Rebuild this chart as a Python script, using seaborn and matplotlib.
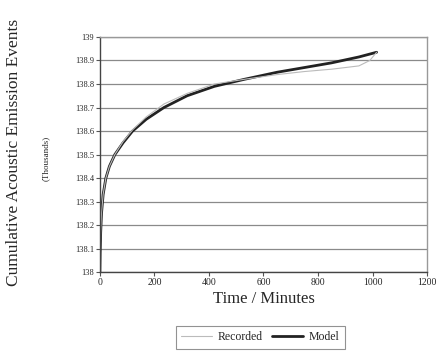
import numpy as np
import pandas as pd
import matplotlib.pyplot as plt
import seaborn as sns

# valores (milhares de eventos)
tempo_modelo = [0, 1, 3, 6, 12, 22, 35, 55, 85, 120, 170, 235, 320, 420, 530, 650, 750, 850, 950, 1015]
valor_modelo = [138.0, 138.08, 138.17, 138.25, 138.33, 138.40, 138.45, 138.50, 138.55, 138.60,
                138.65, 138.70, 138.75, 138.79, 138.82, 138.85, 138.87, 138.89, 138.915, 138.935]

tempo_registado = [0, 1, 3, 6, 12, 22, 35, 55, 85, 120, 170, 235, 320, 420, 530, 650, 750, 850, 950, 990, 1015]
valor_registado = [138.0, 138.08, 138.17, 138.25, 138.33, 138.40, 138.45, 138.50, 138.555, 138.605,
                   138.66, 138.715, 138.76, 138.80, 138.82, 138.84, 138.853, 138.863, 138.877, 138.9, 138.935]

y_ticks = [138.0, 138.1, 138.2, 138.3, 138.4, 138.5, 138.6, 138.7, 138.8, 138.9, 139.0]
y_labels = ['138', '138.1', '138.2', '138.3', '138.4', '138.5', '138.6', '138.7', '138.8', '138.9', '139']
x_ticks = [0, 200, 400, 600, 800, 1000, 1200]

sns.set_style('white')
plt.rcParams['font.family'] = ['Liberation Serif', 'DejaVu Serif']

dados = pd.concat([
    pd.DataFrame({'t': tempo_registado, 'v': valor_registado, 'serie': 'Recorded'}),
    pd.DataFrame({'t': tempo_modelo, 'v': valor_modelo, 'serie': 'Model'}),
])

fig = plt.figure(figsize=(4.38, 3.59), dpi=100)
ax = fig.add_axes([0.228, 0.242, 0.747, 0.655])

# modelo por baixo (grosso), registado por cima (fino)
sns.lineplot(data=dados[dados.serie == 'Model'], x='t', y='v', ax=ax,
             color='#222222', linewidth=2.0, label='Model', sort=False)
sns.lineplot(data=dados[dados.serie == 'Recorded'], x='t', y='v', ax=ax,
             color='#bbbbbb', linewidth=0.8, label='Recorded', sort=False)

ax.set_xlim(0, 1200)
ax.set_ylim(138.0, 139.0)
ax.set_yticks(y_ticks)
ax.set_yticklabels(y_labels, fontsize=6)
ax.set_xticks(x_ticks)
ax.set_xticklabels([str(x) for x in x_ticks], fontsize=7)
ax.grid(axis='y', color='#8a8a8a', linewidth=0.9)
ax.tick_params(axis='both', length=3, width=0.8, color='#555555', pad=1, direction='out')
ax.tick_params(left=True, bottom=True)

for lado in ['top', 'right']:
    ax.spines[lado].set_color('#999999')
    ax.spines[lado].set_linewidth(1.0)
for lado in ['left', 'bottom']:
    ax.spines[lado].set_color('#444444')
    ax.spines[lado].set_linewidth(1.0)

ax.set_xlabel('Time / Minutes', fontsize=12, labelpad=3)
ax.set_ylabel('')
fig.text(0.032, 0.574, 'Cumulative Acoustic Emission Events', rotation=90,
         fontsize=12.5, ha='center', va='center')
fig.text(0.105, 0.56, '(Thousands)', rotation=90, fontsize=6.5, ha='center', va='center')

handles, labels = ax.get_legend_handles_labels()
ordem = [labels.index('Recorded'), labels.index('Model')]
leg = ax.legend([handles[i] for i in ordem], [labels[i] for i in ordem],
                loc='center', bbox_to_anchor=(0.49, -0.277), ncol=2, fontsize=8.5,
                frameon=True, fancybox=False, handlelength=2.6, columnspacing=0.8,
                handletextpad=0.5, borderpad=0.45)
leg.get_frame().set_edgecolor('#777777')
leg.get_frame().set_linewidth(0.8)

fig.savefig('out.png', dpi=100)
